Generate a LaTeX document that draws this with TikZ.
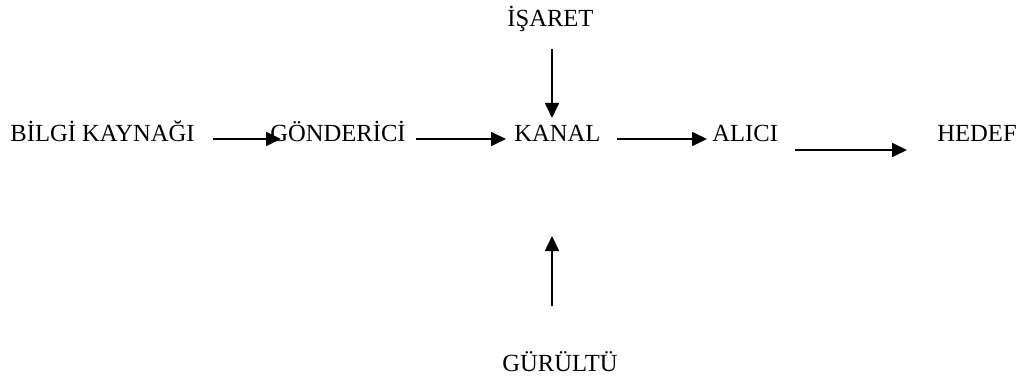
\documentclass[tikz,border=0pt]{standalone}
\usepackage{fontspec}
\setmainfont{Liberation Serif}
\usetikzlibrary{arrows.meta}
\begin{document}
\begin{tikzpicture}[x=0.5pt,y=-0.5pt,
  lbl/.style={inner sep=0pt,anchor=base west,font=\fontsize{12.3pt}{14pt}\selectfont},
  arr/.style={line width=0.85pt,-{Triangle[length=7.5pt,width=7pt]}}]
\useasboundingbox (0,0) rectangle (1031,379);
\node[lbl] (bilgi) at (10,142) {BİLGİ KAYNAĞI};
\node[lbl] (gond) at (270,142) {GÖNDERİCİ};
\node[lbl] (kanal) at (514,142) {KANAL};
\node[lbl] (alici) at (712,142) {ALICI};
\node[lbl] (hedef) at (937,142) {HEDEF};
\node[lbl] (isaret) at (507,27) {İŞARET};
\node[lbl] (gurultu) at (502,371) {GÜRÜLTÜ};
\coordinate (a1s) at (213,139);
\coordinate (a1e) at (281,139);
\coordinate (a2s) at (416,139);
\coordinate (a2e) at (506,139);
\coordinate (a3s) at (617,139);
\coordinate (a3e) at (707,139);
\coordinate (a4s) at (795,150);
\coordinate (a4e) at (907,150);
\coordinate (a5s) at (552,49);
\coordinate (a5e) at (552,118);
\coordinate (a6s) at (552,306);
\coordinate (a6e) at (552,236);
\draw[arr] (a1s) -- (a1e);
\draw[arr] (a2s) -- (a2e);
\draw[arr] (a3s) -- (a3e);
\draw[arr] (a4s) -- (a4e);
\draw[arr] (a5s) -- (a5e);
\draw[arr] (a6s) -- (a6e);
\end{tikzpicture}
\end{document}
